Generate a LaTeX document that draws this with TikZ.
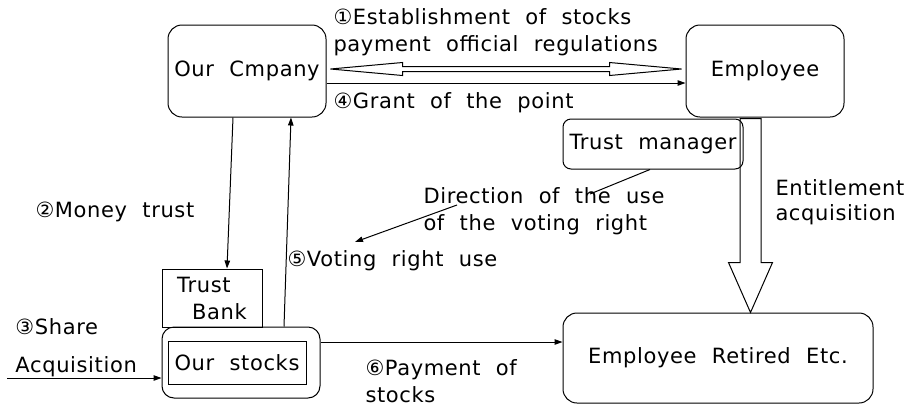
\documentclass[tikz,border=0pt]{standalone}
\usepackage{fontspec}
\setmainfont{DejaVu Sans}[LetterSpace=3,WordSpace=2.1]
\usetikzlibrary{arrows.meta,calc}
\begin{document}
\begin{tikzpicture}[x=1pt,y=-1pt,line width=1pt,
  every node/.style={font=\fontsize{21}{27}\selectfont},
  box/.style={draw,rounded corners=14pt,inner sep=0pt},
  lbl/.style={inner sep=0pt,anchor=west,align=left},
  arr/.style={-{Triangle[length=8pt,width=5.5pt]}}]
  \useasboundingbox (0,0) rectangle (908,408);
  \node[box,minimum width=158pt,minimum height=92pt] (comp) at (247,71) {Our Cmpany};
  \node[box,minimum width=158pt,minimum height=92pt] (emp) at (765,71) {Employee};
  \node[box,rounded corners=8pt,minimum width=180pt,minimum height=50pt] (tm) at (653,144) {Trust manager};
  \node[draw,inner sep=0pt,align=left,minimum width=100pt,minimum height=58pt] (bank) at (212,298) {Trust\\\hspace*{15pt}Bank};
  \node[box,rounded corners=12pt,minimum width=158pt,minimum height=71pt] (stk) at (241,362.5) {};
  \node[draw,inner sep=0pt,minimum width=138pt,minimum height=43pt] (stkin) at (237,362.5) {Our stocks};
  \node[box,minimum width=310pt,minimum height=90pt] (ret) at (718,358) {Employee Retired Etc.};
  \coordinate (da) at ([xshift=4pt,yshift=2pt]comp.east);
  \coordinate (db) at ([xshift=-4pt,yshift=2pt]emp.west);
  \draw (da) -- ($(da)+(72,-6.5)$) -- ($(da)+(72,-2.5)$) -- ($(db)+(-72,-2.5)$) -- ($(db)+(-72,-6.5)$) -- (db)
    -- ($(db)+(-72,6.5)$) -- ($(db)+(-72,2.5)$) -- ($(da)+(72,2.5)$) -- ($(da)+(72,6.5)$) -- cycle;
  \draw[arr] ([yshift=-12pt]comp.east) -- ([yshift=-12pt]comp.east -| emp.west);
  \draw[arr] ([xshift=-14pt]comp.south) -- ([xshift=15pt]bank.north);
  \draw[arr] ([xshift=43pt]stk.north) -- ([xshift=44pt]comp.south);
  \coordinate (s0) at (7,378);
  \draw[arr] (s0) -- (s0 -| stk.west);
  \draw[arr] ([yshift=20.5pt]stk.east) -- ([yshift=20.5pt]stk.east -| ret.west);
  \coordinate (ea) at ([xshift=-14.5pt,yshift=-1pt]emp.south);
  \coordinate (eb) at (ea |- ret.north);
  \draw ([xshift=-10.5pt]ea) -- ([xshift=-10.5pt,yshift=50pt]eb) -- ([xshift=-22pt,yshift=50pt]eb) -- (eb)
    -- ([xshift=22pt,yshift=50pt]eb) -- ([xshift=10.5pt,yshift=50pt]eb) -- ([xshift=10.5pt]ea) -- cycle;
  \coordinate (d0) at (590,194);
  \draw ([xshift=-3pt]tm.south) -- (d0);
  \coordinate (d1) at (457,205);
  \coordinate (d2) at (355,242);
  \draw[arr] (d1) -- (d2);
  \node[lbl] (t1) at (333,32.5) {①Establishment of stocks\\payment official regulations};
  \node[lbl] (t4) at (333,103) {④Grant of the point};
  \node[lbl] (t2) at (35,212) {②Money trust};
  \node[lbl] (t3) at (15,327) {③Share};
  \node[lbl] (t3b) at (15,367) {Acquisition};
  \node[lbl] (t5) at (287,261) {⑤Voting right use};
  \node[lbl] (dir) at (423,211.5) {Direction of the use\\of the voting right};
  \node[lbl,font=\fontsize{21}{25}\selectfont] (ent) at (775,202.5) {Entitlement\\acquisition};
  \node[lbl] (t6) at (365,381) {⑥Payment of\\stocks};
\end{tikzpicture}
\end{document}
